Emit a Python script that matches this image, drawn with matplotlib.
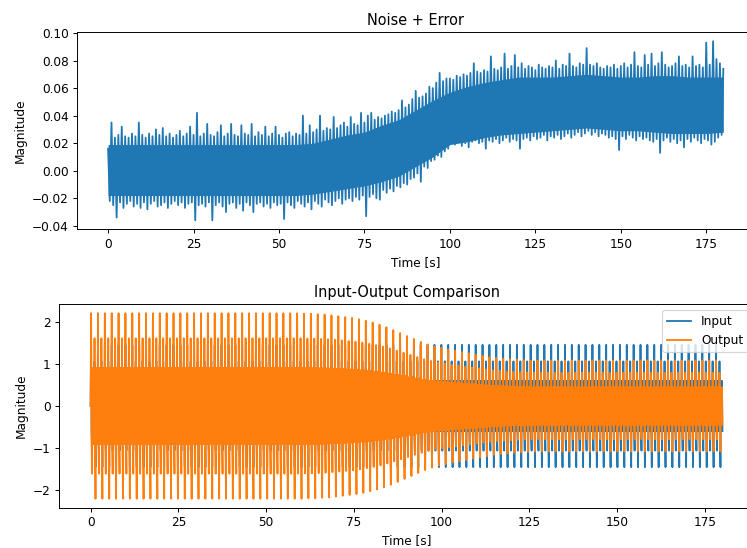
import numpy as np
import matplotlib
matplotlib.use("Agg")
import matplotlib.pyplot as plt

# ---------------- Noise + Error ----------------
# upper extreme of the trace, one value per second (t = 0 .. 180)
noise_hi = [
    0.016, 0.035, 0.024, 0.026, 0.032, 0.025, 0.024, 0.027, 0.025, 0.035,
    0.026, 0.024, 0.027, 0.025, 0.030, 0.026, 0.031, 0.025, 0.027, 0.024,
    0.026, 0.029, 0.025, 0.027, 0.032, 0.026, 0.042, 0.025, 0.027, 0.034,
    0.026, 0.025, 0.028, 0.033, 0.025, 0.027, 0.034, 0.026, 0.025, 0.033,
    0.027, 0.026, 0.034, 0.025, 0.028, 0.026, 0.032, 0.025, 0.027, 0.032,
    0.026, 0.024, 0.027, 0.028, 0.025, 0.027, 0.026, 0.040, 0.027, 0.033,
    0.028, 0.030, 0.040, 0.029, 0.031, 0.030, 0.039, 0.031, 0.033, 0.035,
    0.032, 0.039, 0.034, 0.033, 0.042, 0.035, 0.040, 0.042, 0.037, 0.039,
    0.038, 0.040, 0.041, 0.043, 0.042, 0.044, 0.051, 0.046, 0.048, 0.052,
    0.058, 0.053, 0.054, 0.056, 0.061, 0.060, 0.064, 0.071, 0.065, 0.067,
    0.067, 0.066, 0.069, 0.068, 0.070, 0.069, 0.071, 0.078, 0.072, 0.071,
    0.073, 0.072, 0.083, 0.074, 0.073, 0.075, 0.085, 0.074, 0.076, 0.084,
    0.075, 0.078, 0.074, 0.076, 0.075, 0.073, 0.077, 0.075, 0.074, 0.076,
    0.075, 0.080, 0.074, 0.077, 0.076, 0.085, 0.076, 0.075, 0.078, 0.077,
    0.089, 0.077, 0.076, 0.078, 0.075, 0.074, 0.076, 0.075, 0.077, 0.074,
    0.076, 0.078, 0.075, 0.077, 0.086, 0.076, 0.075, 0.084, 0.077, 0.085,
    0.076, 0.078, 0.086, 0.077, 0.075, 0.076, 0.078, 0.083, 0.076, 0.077,
    0.075, 0.083, 0.076, 0.077, 0.075, 0.093, 0.077, 0.094, 0.081, 0.078,
    0.074,
]
# lower extreme of the trace, one value per second (t = 0.5 .. 179.5)
noise_lo = [
    -0.022, -0.025, -0.034, -0.023, -0.027, -0.024, -0.022, -0.026, -0.024, -0.027,
    -0.023, -0.028, -0.024, -0.022, -0.026, -0.025, -0.023, -0.027, -0.024, -0.022,
    -0.025, -0.023, -0.027, -0.024, -0.023, -0.036, -0.025, -0.024, -0.026, -0.023,
    -0.036, -0.025, -0.023, -0.026, -0.030, -0.024, -0.023, -0.027, -0.024, -0.029,
    -0.023, -0.025, -0.030, -0.024, -0.023, -0.026, -0.024, -0.027, -0.023, -0.025,
    -0.024, -0.035, -0.023, -0.025, -0.027, -0.022, -0.024, -0.026, -0.023, -0.028,
    -0.022, -0.024, -0.026, -0.021, -0.023, -0.025, -0.022, -0.020, -0.024, -0.021,
    -0.020, -0.022, -0.019, -0.021, -0.018, -0.033, -0.019, -0.017, -0.020, -0.021,
    -0.014, -0.016, -0.013, -0.015, -0.011, -0.012, -0.009, -0.010, -0.006, -0.005,
    -0.002, -0.008, 0.003, 0.002, 0.007, 0.008, 0.011, 0.010, 0.014, 0.016,
    0.020, 0.019, 0.021, 0.018, 0.020, 0.017, 0.021, 0.022, 0.020, 0.021,
    0.016, 0.022, 0.021, 0.023, 0.020, 0.022, 0.024, 0.021, 0.023, 0.022,
    0.016, 0.023, 0.024, 0.022, 0.025, 0.023, 0.024, 0.026, 0.022, 0.025,
    0.024, 0.026, 0.023, 0.025, 0.027, 0.024, 0.026, 0.028, 0.025, 0.027,
    0.029, 0.026, 0.028, 0.025, 0.027, 0.026, 0.024, 0.025, 0.023, 0.015,
    0.025, 0.023, 0.026, 0.024, 0.022, 0.025, 0.023, 0.024, 0.022, 0.021,
    0.023, 0.013, 0.022, 0.024, 0.021, 0.023, 0.020, 0.022, 0.017, 0.023,
    0.021, 0.024, 0.022, 0.020, 0.023, 0.022, 0.019, 0.021, 0.024, 0.026,
]
# solid core of the noise band, every 5 s
core_t = list(range(0, 181, 5))
core_hi = [0.019, 0.019, 0.019, 0.019, 0.019, 0.019, 0.019, 0.019, 0.019, 0.019,
           0.019, 0.019, 0.020, 0.023, 0.026, 0.028, 0.033, 0.037, 0.044, 0.051,
           0.057, 0.061, 0.064, 0.066, 0.068, 0.068, 0.068, 0.069, 0.070, 0.069,
           0.068, 0.068, 0.069, 0.069, 0.068, 0.068, 0.068]
core_lo = [-0.018, -0.018, -0.018, -0.018, -0.018, -0.018, -0.018, -0.018, -0.018, -0.018,
           -0.018, -0.018, -0.017, -0.015, -0.013, -0.011, -0.008, -0.004, 0.003, 0.010,
           0.019, 0.021, 0.024, 0.026, 0.027, 0.028, 0.029, 0.030, 0.031, 0.030,
           0.029, 0.029, 0.028, 0.027, 0.027, 0.027, 0.028]

# ---------------- Input-Output Comparison ----------------
# spike levels inside one oscillation, as fraction of the peak: tall, mid, core
wave_levels = [1.0, 0.73, 0.41]
input_peak = 1.45
# height of each tall output spike (one per oscillation)
output_peak = [
    2.20, 2.20, 2.20, 2.20, 2.20, 2.20, 2.20, 2.20, 2.20, 2.20,
    2.20, 2.20, 2.20, 2.20, 2.20, 2.20, 2.20, 2.20, 2.20, 2.20,
    2.20, 2.20, 2.20, 2.20, 2.20, 2.20, 2.20, 2.20, 2.20, 2.20,
    2.20, 2.19, 2.19, 2.18, 2.17, 2.15, 2.13, 2.11, 2.09, 2.06,
    2.02, 1.98, 1.93, 1.87, 1.80, 1.73, 1.66, 1.59, 1.52, 1.46,
    1.41, 1.38, 1.34, 1.31, 1.28, 1.25, 1.22, 1.19, 1.16, 1.14,
    1.12, 1.11, 1.10, 1.09, 1.08, 1.08, 1.08, 1.08, 1.08, 1.08,
    1.08, 1.08, 1.08, 1.08, 1.08, 1.08, 1.08, 1.08, 1.08, 1.08,
    1.08, 1.08, 1.08, 1.08, 1.08, 1.08, 1.08, 1.08, 1.08, 1.08,
    1.08, 1.08,
]
n_cycles = len(output_peak)

# noise trace: alternate upper / lower extremes
t_noise = np.empty(len(noise_hi) + len(noise_lo))
y_noise = np.empty_like(t_noise)
t_noise[0::2] = np.arange(len(noise_hi))
t_noise[1::2] = np.arange(len(noise_lo)) + 0.5
y_noise[0::2] = noise_hi
y_noise[1::2] = noise_lo

# one oscillation: +tall, -mid, +mid, -tall with the core filled in between
A, B, C = wave_levels
cycle = np.array([A, -C, -B, C, -C, C, -C, B, -C, -A, C, -C, C, -C])
wave = np.concatenate([[0.0], np.tile(cycle, n_cycles)])
t_io = np.linspace(0, 180, len(wave))
amp = np.concatenate([[output_peak[0]], np.repeat(output_peak, len(cycle))])

y_in = wave * input_peak
y_out = wave * amp

fig = plt.figure(figsize=(747 / 87, 548 / 87), dpi=87)

ax1 = fig.add_axes([0.1035, 0.5816, 0.906, 0.3595])
ax1.fill_between(core_t, core_lo, core_hi, color="C0", linewidth=0)
ax1.plot(t_noise, y_noise, color="C0")
ax1.set_title("Noise + Error")
ax1.set_xlabel("Time [s]")
ax1.set_ylabel("Magnitude")

ax2 = fig.add_axes([0.079, 0.073, 0.9304, 0.3723])
ax2.plot(t_io, y_in, label="Input")
ax2.plot(t_io, y_out, label="Output")
ax2.set_title("Input-Output Comparison")
ax2.set_xlabel("Time [s]")
ax2.set_ylabel("Magnitude")
ax2.legend(loc="upper right")

fig.savefig("out.png", dpi=87)
